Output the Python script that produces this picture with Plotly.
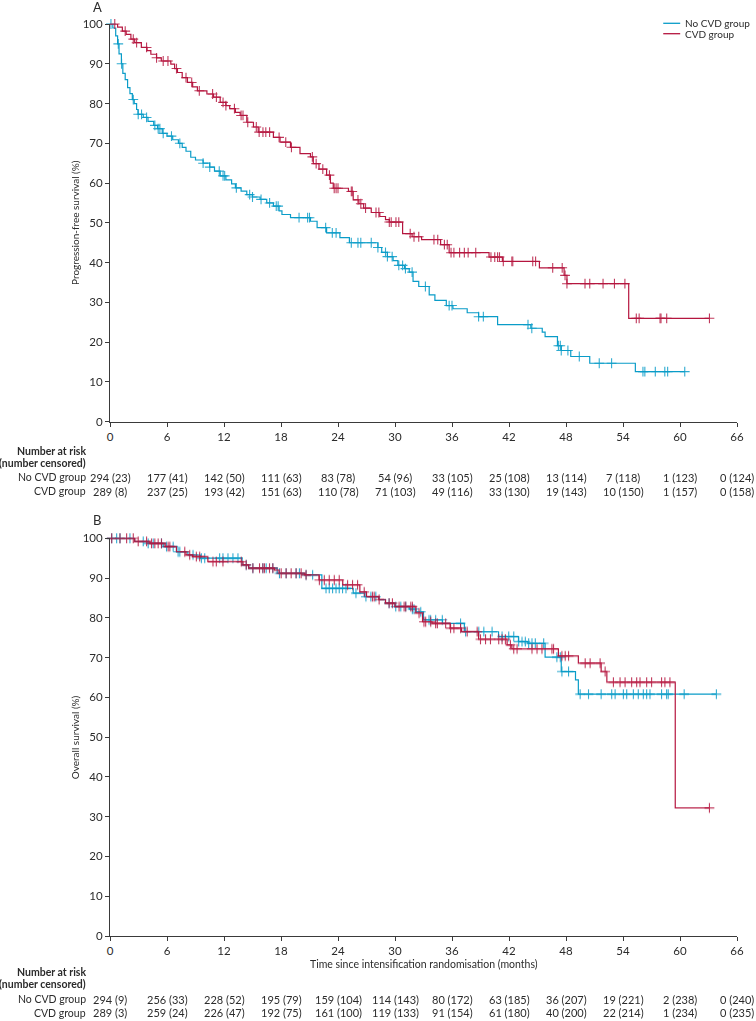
import numpy as np
import plotly.graph_objects as go

BLUE = "#0A9CC8"
RED = "#B5163F"
AXIS = "#3a3a3a"
TXT = "#2b2b2b"
FONT = "Lato"

tick_months = list(range(0, 67, 6))
group_names = ["No CVD group", "CVD group"]

# ---------------- Panel A: progression-free survival ----------------
pfs_nocvd_t = [0, 0.3, 0.6, 0.8, 0.95, 1.2, 1.35, 1.6, 1.85, 2.1, 2.35, 2.55,
               2.8, 2.95, 3.5, 4.0, 4.6, 5.0, 5.5, 6.0, 6.6, 7.2, 7.6, 8.0,
               8.5, 9.0, 9.8, 10.5, 11.0, 11.6, 12.2, 12.8, 13.2, 13.8, 14.4, 15.0,
               15.8, 16.5, 17.2, 17.8, 18.1, 19.0, 21.1, 21.8, 22.8, 24.2, 25.2, 28.2,
               28.6, 29.2, 29.8, 30.3, 31.0, 31.5, 31.9, 32.5, 33.6, 34.2, 35.4, 36.1,
               37.6, 38.8, 40.8, 44.3, 45.5, 45.8, 47.1, 47.5, 48.5, 50.5, 55.3, 60.5]
pfs_nocvd_s = [100, 99, 97, 95, 92.5, 90, 87.6, 86, 84, 82.5, 81, 80,
               78.5, 77.3, 76.5, 75.5, 74.5, 73.7, 72.5, 71.8, 70.9, 70.0, 69.0, 68.0,
               66.5, 65.8, 65.0, 64.0, 63.0, 61.8, 60.8, 59.8, 58.8, 58.0, 57.1, 56.5,
               55.9, 55.0, 54.2, 53.0, 52.1, 51.3, 50.4, 48.8, 47.5, 46.3, 45.0, 43.8,
               42.6, 41.5, 40.5, 39.3, 38.5, 37.6, 35.3, 34.0, 31.9, 30.5, 29.2, 28.4,
               27.4, 26.4, 24.4, 23.5, 22.5, 21.4, 19.1, 17.9, 16.4, 14.7, 12.6, 12.6]
pfs_nocvd_cens = [0.1, 0.87, 1.22, 2.45, 2.97, 3.32, 3.85, 4.72, 5.07, 5.25, 5.6, 6.47,
                  7.35, 9.8, 10.5, 11.5, 11.9, 12.07, 13.3, 14.7, 15.0, 15.9, 16.8, 17.5,
                  17.7, 19.9, 20.8, 21.0, 22.7, 23.4, 23.8, 25.4, 26.1, 26.4, 27.5, 28.2,
                  29.0, 29.2, 29.7, 30.4, 30.8, 31.1, 31.8, 33.2, 35.7, 36.0, 38.8, 39.3,
                  44.0, 44.4, 47.2, 47.4, 47.5, 48.2, 49.4, 51.5, 52.8, 56.1, 56.3, 57.4,
                  58.4, 58.7, 60.5]

pfs_cvd_t = [0, 0.8, 1.3, 1.7, 2.2, 2.6, 3.3, 3.9, 4.3, 4.9, 5.4, 6.4,
             6.8, 7.1, 7.6, 8.15, 8.7, 9.2, 10.2, 10.9, 11.6, 12.2, 12.6, 13.2,
             13.7, 14.4, 15.1, 15.6, 17.2, 17.9, 19.0, 20.0, 21.1, 21.4, 22.0, 22.8,
             23.2, 23.5, 25.1, 25.6, 26.2, 26.7, 27.5, 28.4, 29.0, 29.4, 30.8, 31.8,
             32.8, 34.8, 35.7, 39.9, 41.3, 45.2, 47.8, 48.1, 54.6, 63.1]
pfs_cvd_s = [100, 99.2, 98.2, 97.4, 96.2, 95.3, 94.1, 93.3, 92.4, 91.5, 90.7, 89.9,
             88.8, 87.8, 86.5, 85.3, 84.2, 83.2, 82.4, 81.6, 80.3, 79.5, 78.7, 77.8,
             77.0, 75.3, 74.1, 72.8, 71.5, 70.3, 69.0, 67.4, 66.6, 64.9, 63.5, 62.0,
             60.0, 58.7, 57.9, 55.8, 54.8, 53.7, 52.6, 51.6, 50.8, 50.2, 47.3, 46.5,
             45.8, 44.5, 42.5, 41.4, 40.3, 38.7, 36.8, 34.7, 26.0, 26.0]
pfs_cvd_cens = [0.5, 1.6, 2.45, 2.8, 3.85, 4.9, 5.6, 6.1, 7.0, 8.0, 8.6, 9.4,
                10.8, 11.2, 11.9, 12.2, 13.1, 13.8, 14.0, 14.5, 15.4, 15.7, 16.1, 16.4,
                16.8, 17.8, 18.5, 19.1, 21.3, 21.7, 22.4, 23.1, 23.6, 23.8, 24.0, 25.4,
                25.5, 26.1, 26.4, 26.9, 28.0, 28.3, 29.4, 29.6, 30.1, 30.4, 31.6, 32.0,
                32.5, 34.1, 34.5, 35.2, 35.5, 35.9, 36.2, 36.8, 37.3, 37.7, 38.5, 40.1,
                40.5, 40.8, 41.0, 41.4, 42.3, 42.4, 44.5, 44.8, 46.6, 47.6, 47.9, 48.1,
                50.0, 50.5, 51.9, 53.1, 54.2, 55.4, 55.7, 57.9, 58.0, 58.6, 63.1]

pfs_nocvd_risk = [294, 177, 142, 111, 83, 54, 33, 25, 13, 7, 1, 0]
pfs_nocvd_censn = [23, 41, 50, 63, 78, 96, 105, 108, 114, 118, 123, 124]
pfs_cvd_risk = [289, 237, 193, 151, 110, 71, 49, 33, 19, 10, 1, 0]
pfs_cvd_censn = [8, 25, 42, 63, 78, 103, 116, 130, 143, 150, 157, 158]

# ---------------- Panel B: overall survival ----------------
os_nocvd_t = [0, 2.6, 4.0, 5.6, 7.0, 8.2, 9.5, 13.9, 14.6, 17.6, 20.5, 22.3,
              25.6, 26.8, 28.3, 29.0, 30.0, 31.5, 32.2, 33.0, 35.0, 37.3, 40.9, 43.0,
              44.0, 45.8, 47.5, 49.0, 49.3, 63.8]
os_nocvd_s = [100, 99.2, 98.7, 97.9, 96.6, 95.8, 95.0, 93.3, 92.5, 91.2, 90.8, 87.4,
              86.2, 85.3, 84.6, 83.7, 82.8, 82.2, 81.5, 79.5, 78.6, 76.5, 75.3, 74.0,
              73.6, 70.1, 66.5, 64.4, 60.8, 60.8]
os_nocvd_cens = [0.18, 0.70, 1.05, 2.10, 3.50, 4.02, 4.55, 5.42, 5.95, 6.65, 7.17, 7.35,
                 8.74, 9.62, 9.97, 11.54, 11.89, 12.42, 12.94, 13.47, 14.34, 15.04, 16.09, 16.44,
                 17.14, 17.84, 18.54, 19.59, 19.94, 20.64, 21.33, 22.74, 23.08, 23.43, 23.79, 24.13,
                 24.48, 24.84, 25.89, 26.94, 27.46, 27.98, 29.38, 30.08, 30.61, 31.13, 31.83, 32.0,
                 32.71, 33.58, 33.75, 34.28, 34.98, 36.90, 37.43, 38.82, 39.35, 40.22, 41.27, 41.97,
                 42.50, 43.02, 43.37, 43.72, 44.07, 44.42, 44.77, 45.65, 47.04, 47.40, 47.57, 48.27,
                 49.49, 50.37, 51.70, 52.81, 53.17, 54.04, 54.39, 55.09, 55.61, 56.14, 56.49, 56.84,
                 58.06, 58.59, 58.76, 60.44, 63.83]

os_cvd_t = [0, 2.6, 4.2, 5.8, 7.0, 8.0, 8.7, 10.3, 14.0, 14.6, 17.3, 17.8,
            20.5, 22.0, 24.5, 26.3, 27.0, 28.3, 29.0, 30.0, 32.2, 32.9, 33.9, 35.8,
            37.0, 38.8, 41.8, 42.3, 47.2, 49.3, 51.7, 52.3, 59.5, 63.1]
os_cvd_s = [100, 99.2, 98.7, 97.9, 96.6, 95.8, 95.4, 94.1, 93.3, 92.5, 92.0, 91.2,
            90.8, 89.5, 88.3, 86.5, 85.3, 84.6, 83.7, 82.8, 81.2, 79.0, 78.6, 77.4,
            76.5, 74.6, 73.2, 72.2, 70.4, 68.6, 66.5, 63.8, 32.2, 32.2]
os_cvd_cens = [0.18, 1.05, 1.75, 2.45, 2.97, 3.85, 4.37, 4.72, 5.07, 5.42, 6.12, 6.30,
               7.87, 8.39, 9.09, 9.44, 10.84, 11.19, 11.89, 13.82, 14.34, 15.04, 15.74, 16.09,
               16.26, 16.79, 17.14, 18.02, 18.54, 19.07, 19.59, 20.12, 20.64, 22.04, 22.56, 23.08,
               23.61, 24.13, 25.01, 25.53, 26.06, 26.76, 27.63, 27.81, 28.33, 29.38, 29.73, 30.43,
               30.96, 31.13, 31.66, 31.83, 32.53, 33.05, 33.23, 33.76, 34.28, 34.46, 35.33, 35.85,
               36.20, 36.90, 37.60, 38.65, 39.00, 39.53, 40.05, 40.92, 41.27, 41.62, 42.15, 42.50,
               42.85, 44.42, 44.95, 45.47, 46.52, 46.69, 47.57, 47.92, 48.27, 50.02, 50.54, 51.59,
               52.12, 52.99, 53.69, 54.22, 54.91, 55.44, 55.79, 56.49, 57.01, 58.06, 58.41, 58.94,
               63.1]

os_nocvd_risk = [294, 256, 228, 195, 159, 114, 80, 63, 36, 19, 2, 0]
os_nocvd_censn = [9, 33, 52, 79, 104, 143, 172, 185, 207, 221, 238, 240]
os_cvd_risk = [289, 259, 226, 192, 161, 119, 91, 61, 40, 22, 1, 0]
os_cvd_censn = [3, 24, 47, 75, 100, 133, 154, 180, 200, 214, 234, 235]

for a, b in [(pfs_nocvd_t, pfs_nocvd_s), (pfs_cvd_t, pfs_cvd_s),
             (os_nocvd_t, os_nocvd_s), (os_cvd_t, os_cvd_s)]:
    assert len(a) == len(b), (len(a), len(b))

# ---------------- layout geometry (pixels) ----------------
W, H = 756, 1021
ML, MR, MT, MB = 110, 17, 24, 85
PLOT_H = H - MT - MB
PLOT_W = W - ML - MR


def py(px):
    """pixel row -> paper y"""
    return (H - MB - px) / PLOT_H


def pxx(px):
    return (px - ML) / PLOT_W


A_top, A_bot = 24, 421.7
B_top, B_bot = 538.3, 936

fig = go.Figure()


def step_value(t, s, x):
    t = np.asarray(t)
    s = np.asarray(s)
    idx = np.searchsorted(t, x, side="right") - 1
    return s[np.clip(idx, 0, len(s) - 1)]


def add_curve(t, s, cens, color, xa, ya, name):
    fig.add_trace(go.Scatter(x=t, y=s, mode="lines", line=dict(color=color, width=1.2, shape="hv"),
                             xaxis=xa, yaxis=ya, name=name, showlegend=False, cliponaxis=False,
                             hoverinfo="skip"))
    fig.add_trace(go.Scatter(x=cens, y=step_value(t, s, cens), mode="markers",
                             marker=dict(symbol="cross-thin", size=7, color=color,
                                         line=dict(color=color, width=1.1)),
                             opacity=0.85, xaxis=xa, yaxis=ya, showlegend=False,
                             cliponaxis=False, hoverinfo="skip"))


add_curve(pfs_nocvd_t, pfs_nocvd_s, pfs_nocvd_cens, BLUE, "x", "y", "No CVD group")
add_curve(pfs_cvd_t, pfs_cvd_s, pfs_cvd_cens, RED, "x", "y", "CVD group")
add_curve(os_nocvd_t, os_nocvd_s, os_nocvd_cens, BLUE, "x2", "y2", "No CVD group")
add_curve(os_cvd_t, os_cvd_s, os_cvd_cens, RED, "x2", "y2", "CVD group")

axis_common = dict(showgrid=False, zeroline=False, showline=True, linecolor=AXIS, linewidth=1,
                   ticks="outside", ticklen=4, tickcolor=AXIS, tickwidth=1,
                   tickfont=dict(family=FONT, size=11.5, color=TXT))

fig.update_layout(
    width=W, height=H,
    margin=dict(l=ML, r=MR, t=MT, b=MB),
    paper_bgcolor="white", plot_bgcolor="white",
    showlegend=False,
    hovermode=False,
    font=dict(family=FONT, color=TXT),
    xaxis=dict(range=[0, 66], tickvals=tick_months, anchor="y", domain=[0, 1], **axis_common),
    yaxis=dict(range=[0, 100], tickvals=list(range(0, 101, 10)), anchor="x",
               domain=[py(A_bot), py(A_top)], **axis_common),
    xaxis2=dict(range=[0, 66], tickvals=tick_months, anchor="y2", domain=[0, 1], **axis_common),
    yaxis2=dict(range=[0, 100], tickvals=list(range(0, 101, 10)), anchor="x2",
                domain=[py(B_bot), py(B_top)], **axis_common),
)

ann = []
shapes = []

# panel letters
ann.append(dict(text="A", x=pxx(97), y=py(7), xref="paper", yref="paper", showarrow=False,
                xanchor="center", yanchor="middle", font=dict(size=13, family=FONT, color=TXT)))
ann.append(dict(text="B", x=pxx(97), y=py(520), xref="paper", yref="paper", showarrow=False,
                xanchor="center", yanchor="middle", font=dict(size=13, family=FONT, color=TXT)))

# y-axis titles
ann.append(dict(text="Progression-free survival (%)", x=pxx(75), y=py((A_top + A_bot) / 2),
                xref="paper", yref="paper", showarrow=False, textangle=-90,
                xanchor="center", yanchor="middle", font=dict(size=10, family=FONT, color=TXT)))
ann.append(dict(text="Overall survival (%)", x=pxx(75), y=py((B_top + B_bot) / 2),
                xref="paper", yref="paper", showarrow=False, textangle=-90,
                xanchor="center", yanchor="middle", font=dict(size=10, family=FONT, color=TXT)))

# x-axis title (panel B)
ann.append(dict(text="Time since intensification randomisation (months)", x=0.5, y=py(963.5),
                xref="paper", yref="paper", showarrow=False, xanchor="center", yanchor="middle",
                font=dict(size=10.5, family=FONT, color=TXT)))

# legend
legend_rows = [(group_names[0], BLUE, 23.3), (group_names[1], RED, 33.7)]
for name, col, ypx in legend_rows:
    shapes.append(dict(type="line", xref="paper", yref="paper", x0=pxx(665), x1=pxx(682),
                       y0=py(ypx), y1=py(ypx), line=dict(color=col, width=1.3)))
    ann.append(dict(text=name, x=pxx(685), y=py(ypx), xref="paper", yref="paper", showarrow=False,
                    xanchor="left", yanchor="middle", font=dict(size=10, family=FONT, color=TXT)))


def risk_table(rows_y, header_y, risk1, cens1, risk2, cens2, xref):
    ann.append(dict(text="<b>Number at risk</b>", x=pxx(87.5), y=py(header_y[0]), xref="paper",
                    yref="paper", showarrow=False, xanchor="right", yanchor="middle",
                    font=dict(size=10.5, family=FONT, color=TXT)))
    ann.append(dict(text="<b>(number censored)</b>", x=pxx(87.5), y=py(header_y[1]), xref="paper",
                    yref="paper", showarrow=False, xanchor="right", yanchor="middle",
                    font=dict(size=10.5, family=FONT, color=TXT)))
    for (label, risk, cens), ypx in zip([(group_names[0], risk1, cens1),
                                         (group_names[1], risk2, cens2)], rows_y):
        ann.append(dict(text=label, x=pxx(87.5), y=py(ypx), xref="paper", yref="paper",
                        showarrow=False, xanchor="right", yanchor="middle",
                        font=dict(size=10.5, family=FONT, color=TXT)))
        for m, r, c in zip(tick_months, risk, cens):
            ann.append(dict(text=f"{r} ({c})", x=m, y=py(ypx), xref=xref, yref="paper",
                            showarrow=False, xanchor="center", yanchor="middle",
                            font=dict(size=11, family=FONT, color=TXT)))


risk_table([477.3, 491], [450.7, 463.3], pfs_nocvd_risk, pfs_nocvd_censn,
           pfs_cvd_risk, pfs_cvd_censn, "x")
risk_table([999, 1012.7], [971.7, 984.3], os_nocvd_risk, os_nocvd_censn,
           os_cvd_risk, os_cvd_censn, "x2")

fig.update_layout(annotations=ann, shapes=shapes)
fig.write_html("out.html", config={"displayModeBar": False},
               post_script="document.body.style.margin='0';document.body.style.overflow='hidden';")
